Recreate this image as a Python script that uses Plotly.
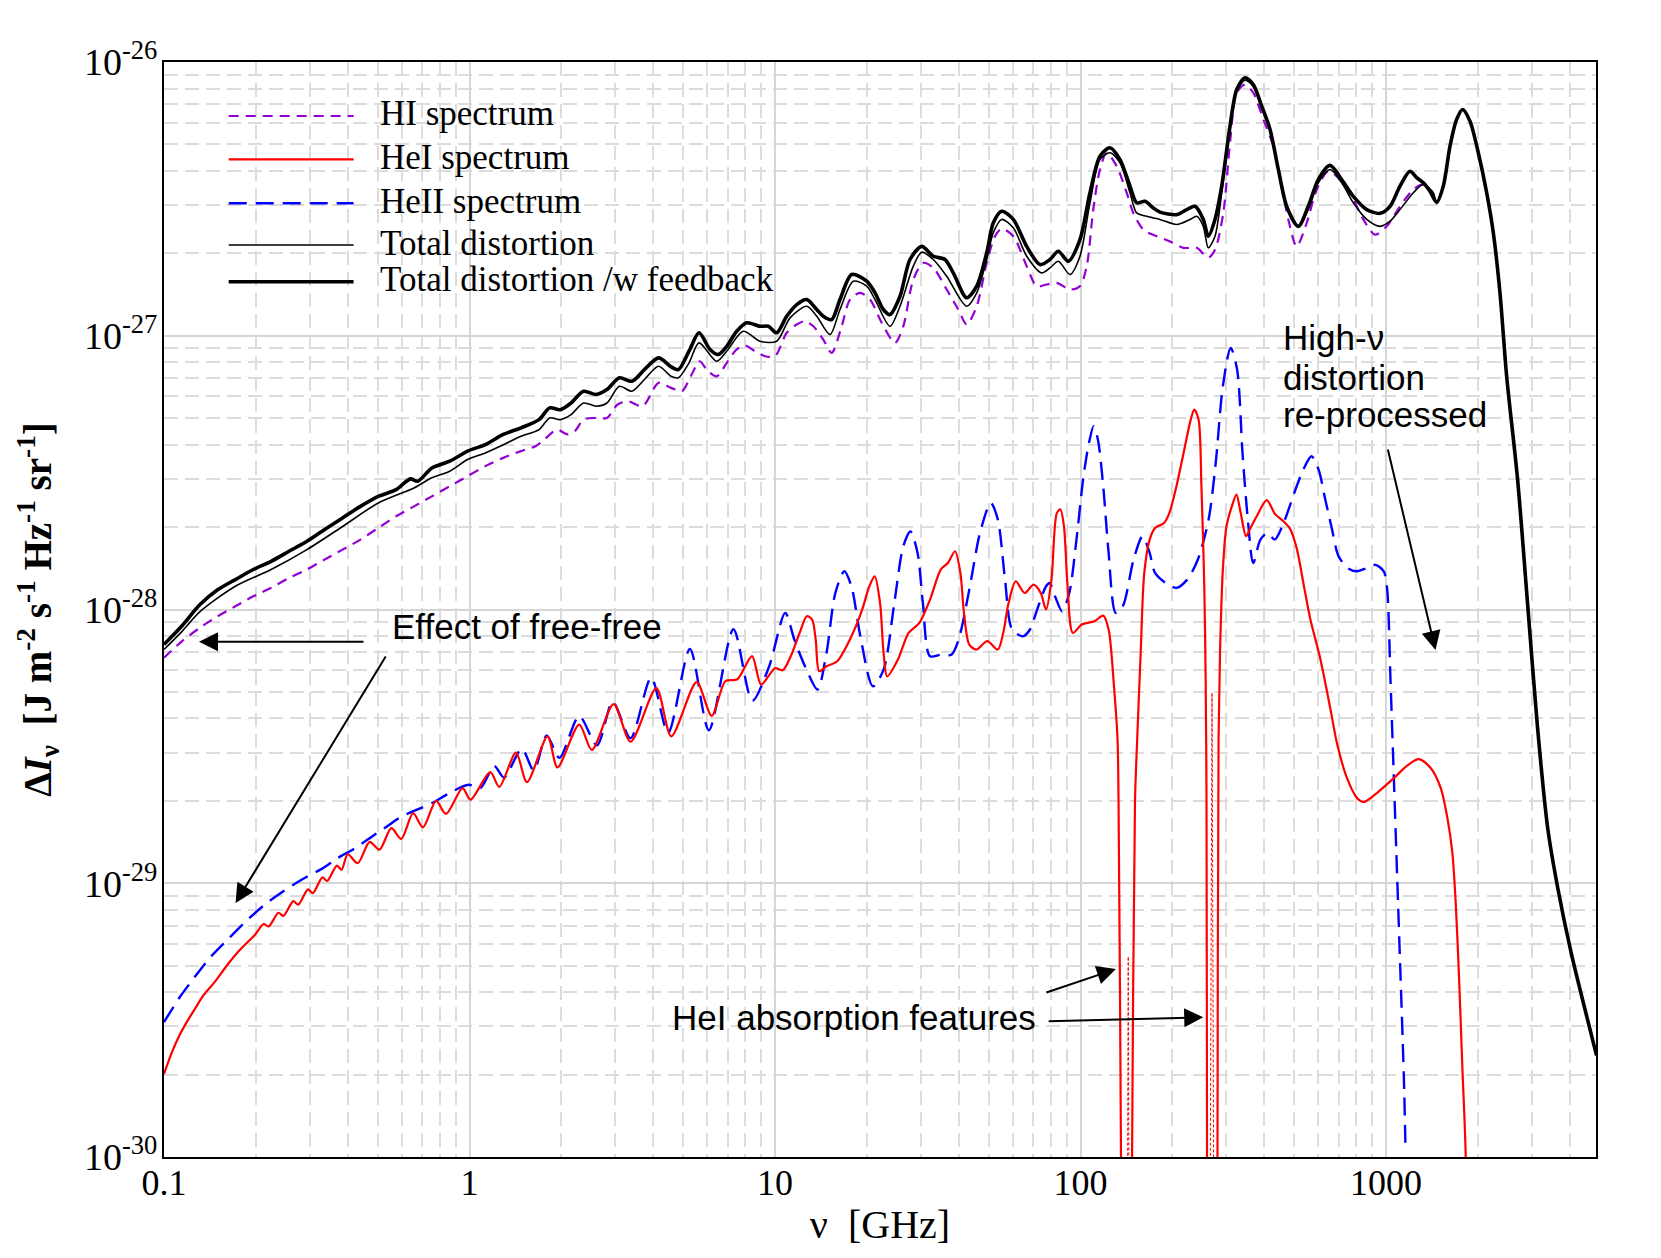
import plotly.graph_objects as go

# ---------------- data (nu in GHz, Delta I_nu in J m^-2 s^-1 Hz^-1 sr^-1) ----------------
hi_nu = [0.1, 0.1144, 0.1309, 0.1498, 0.1712, 0.1960, 0.2242, 0.2566, 0.2937, 0.3357, 0.3842,
         0.4395, 0.5030, 0.5751, 0.658, 0.7531, 0.8615, 0.9858, 1.127, 1.290, 1.475, 1.644,
         1.735, 1.932, 2.095, 2.211, 2.363, 2.597, 2.817, 3.054, 3.311, 3.687, 4.159, 4.570,
         4.959, 5.30, 5.67, 5.975, 6.445, 6.950, 7.494, 7.98, 8.60, 9.27, 10.0, 10.92, 11.78,
         12.54, 13.35, 14.39, 15.33, 16.53, 17.60, 18.98, 20.46, 22.36, 24.71, 26.30, 28.36,
         30.58, 32.97, 36.48, 39.81, 42.41, 45.74, 49.32, 52.5, 55.21, 60.26, 66.66, 71.9,
         77.5, 83.6, 92.4, 99.6, 104.8, 110.1, 115.8, 121.8, 131.4, 141.6, 148.9, 160.6,
         177.6, 196.3, 217.1, 240.1, 262.0, 275.6, 293.4, 308.6, 324.6, 345.6, 367.7, 396.7,
         427.8, 455.7, 478.9, 510.1, 550.3, 593.3, 647.4, 707.2, 781.6, 843.0, 920.4, 1005,
         1111, 1229, 1325, 1393, 1465, 1540, 1620, 1703, 1782, 1883, 2005, 2136, 2245, 2361,
         2483, 2696, 2907, 3135, 3383, 3648, 4035, 4461, 4887]
hi_I = [6.67e-29, 7.65e-29, 8.57e-29, 9.44e-29, 1.027e-28, 1.117e-28, 1.20e-28, 1.305e-28,
        1.40e-28, 1.522e-28, 1.655e-28, 1.80e-28, 1.987e-28, 2.19e-28, 2.38e-28, 2.59e-28,
        2.82e-28, 3.07e-28, 3.34e-28, 3.58e-28, 3.79e-28, 3.95e-28, 4.12e-28, 4.54e-28,
        4.36e-28, 4.48e-28, 4.94e-28, 5.01e-28, 5.01e-28, 5.61e-28, 5.76e-28, 5.53e-28,
        6.73e-28, 6.45e-28, 6.27e-28, 7.11e-28, 8.07e-28, 7.52e-28, 7.11e-28, 7.96e-28,
        8.91e-28, 9.21e-28, 8.78e-28, 8.42e-28, 8.42e-28, 1.025e-27, 1.099e-27, 1.13e-27,
        1.083e-27, 9.68e-28, 8.66e-28, 1.083e-27, 1.356e-27, 1.435e-27, 1.356e-27, 1.115e-27,
        9.42e-28, 1.083e-27, 1.604e-27, 1.846e-27, 1.77e-27, 1.475e-27, 1.247e-27, 1.099e-27,
        1.282e-27, 1.846e-27, 2.31e-27, 2.46e-27, 2.31e-27, 1.795e-27, 1.517e-27, 1.539e-27,
        1.561e-27, 1.475e-27, 1.517e-27, 1.795e-27, 2.89e-27, 4.05e-27, 4.66e-27, 4.16e-27,
        3.33e-27, 2.81e-27, 2.44e-27, 2.31e-27, 2.21e-27, 2.095e-27, 2.095e-27, 1.93e-27,
        2.06e-27, 2.81e-27, 5.07e-27, 7.72e-27, 8.27e-27, 7.72e-27, 6.17e-27, 4.93e-27,
        3.52e-27, 2.66e-27, 2.12e-27, 2.585e-27, 3.42e-27, 3.99e-27, 3.72e-27, 3.15e-27,
        2.66e-27, 2.34e-27, 2.51e-27, 2.97e-27, 3.42e-27, 3.57e-27, 3.37e-27, 3.07e-27,
        3.52e-27, 4.93e-27, 6.17e-27, 6.71e-27, 6.08e-27, 4.66e-27, 3.33e-27, 2.38e-27,
        1.435e-27, 7.11e-28, 2.99e-28, 1.05e-28, 3.68e-29, 1.59e-29, 9.63e-30, 5.59e-30,
        3.53e-30, 2.35e-30]

hei_nu = [0.1, 0.1061, 0.1127, 0.1196, 0.1269, 0.1347, 0.1473, 0.1611, 0.1761, 0.1985,
          0.212, 0.220, 0.237, 0.246, 0.265, 0.275, 0.296, 0.307, 0.330, 0.342, 0.368, 0.381,
          0.3997, 0.4306, 0.4710, 0.5074, 0.5548, 0.5977,
          0.6537, 0.7042, 0.7772, 0.8374, 0.9489, 1.007, 1.169, 1.252, 1.419, 1.542, 1.801,
          1.941, 2.286, 2.515, 2.963, 3.367, 4.088, 4.577, 5.54, 6.204, 6.887, 7.531, 8.41,
          9.01, 10.0, 10.6, 11.26, 12.04, 12.71, 13.23, 13.59, 13.96, 14.74, 15.98, 17.79,
          19.29, 20.36, 21.20, 22.07, 22.67, 23.29, 25.25, 27.37, 29.68, 32.17, 34.87, 36.8,
          38.84, 40.44, 41.55, 43.25, 45.64, 49.50, 53.63, 55.85, 58.15, 61.38, 65.64, 70.22,
          74.11, 77.15, 80.34, 83.65, 85.94, 88.29, 90.7, 94.4, 101.0, 111.0, 118.7, 123.6,
          128.7, 132.2, 133.2, 135.7, 137.0, 146.0, 147.5, 150.8, 153.3, 157.4, 161.7, 168.4,
          175.4, 187.6, 195.3, 206.1, 217.5, 229.5, 235.8, 243.5, 248.8, 254.2, 257.0, 258.5,
          259.5, 260.5, 279.5, 280.8, 283.1, 286.2, 292.4, 300.4, 312.8, 323.9, 334.5, 348.3,
          358.7, 377.3, 406.9, 433.5, 461.6, 485.6, 510.7, 537.0, 564.9, 609.2, 657.0, 691.0,
          745.4, 803.8, 845.3, 935.0, 1061, 1173, 1281, 1400, 1510, 1588, 1649, 1691, 1734,
          1778, 1824, 1850]
hei_I = [2.01e-30, 2.41e-30, 2.80e-30, 3.155e-30, 3.51e-30, 3.90e-30, 4.39e-30, 5.03e-30,
         5.67e-30, 6.49e-30,
         7.1e-30, 6.95e-30, 7.8e-30, 7.6e-30, 8.6e-30, 8.35e-30, 9.5e-30, 9.2e-30, 1.05e-29,
         1.02e-29, 1.16e-29, 1.12e-29,
         1.276e-29, 1.183e-29, 1.417e-29, 1.327e-29, 1.589e-29, 1.452e-29, 1.803e-29,
         1.599e-29, 2.00e-29,
         1.792e-29, 2.225e-29, 2.02e-29, 2.545e-29, 2.25e-29, 3.00e-29, 2.34e-29, 3.44e-29,
         2.65e-29, 3.80e-29, 3.07e-29, 4.51e-29, 3.29e-29, 5.16e-29, 3.44e-29, 5.43e-29,
         4.09e-29, 5.48e-29, 5.56e-29, 6.76e-29, 5.32e-29, 6.1e-29, 6.0e-29, 6.75e-29, 8.21e-29,
         9.45e-29, 9.19e-29, 7.76e-29, 5.95e-29, 6.20e-29, 6.47e-29, 7.98e-29, 9.99e-29,
         1.216e-28, 1.322e-28, 1.057e-28, 6.94e-29, 5.70e-29, 6.56e-29, 8.21e-29, 8.93e-29,
         1.087e-28, 1.399e-28, 1.479e-28, 1.632e-28, 1.36e-28, 9.72e-29, 7.44e-29, 7.14e-29,
         7.66e-29, 7.14e-29, 8.21e-29, 1.057e-28, 1.268e-28, 1.149e-28, 1.233e-28, 1.149e-28,
         9.99e-29, 1.286e-28, 2.25e-28, 2.32e-28, 2.01e-28, 1.216e-28, 8.21e-29, 8.81e-29,
         9.06e-29, 9.50e-29, 8.45e-29, 5.24e-29, 3.35e-29, 2.0e-29, 1e-30, 1e-31, 1e-31, 1e-30,
         2.0e-29, 3.35e-29, 6.94e-29, 1.36e-28, 1.80e-28, 1.986e-28, 2.07e-28, 2.25e-28,
         2.82e-28, 3.73e-28, 4.94e-28, 5.37e-28, 4.94e-28, 2.82e-28, 1.216e-28, 5.24e-29,
         2.0e-29, 1e-30, 1e-31, 1e-31, 1e-30, 3.35e-29, 6.94e-29, 1.399e-28, 2.01e-28, 2.38e-28,
         2.63e-28, 2.25e-28, 1.852e-28, 1.968e-28, 2.19e-28, 2.51e-28, 2.23e-28, 2.10e-28,
         1.968e-28, 1.665e-28, 1.242e-28, 9.26e-29, 6.62e-29, 4.36e-29, 3.25e-29, 2.42e-29,
         2.05e-29, 1.982e-29, 2.14e-29, 2.42e-29, 2.69e-29, 2.84e-29, 2.635e-29, 2.23e-29,
         1.733e-29, 1.292e-29, 8.50e-30, 4.54e-30, 2.13e-30, 1.00e-30, 1e-31]

# negative HeI parts inside the absorption features (thin dashed)
hei_neg_nu = [141.8, 143.3, 144.8, None, 264.0, 269.5, 274.5]
hei_neg_I = [1e-31, 5.4e-30, 1e-31, None, 1e-31, 4.97e-29, 1e-31]

heii_nu = [0.1, 0.1127, 0.1269, 0.1430, 0.1611, 0.1815, 0.2107, 0.2445, 0.2838, 0.3294,
           0.3711, 0.4181, 0.4710, 0.5307, 0.5977, 0.6737, 0.7590, 0.8553, 0.9922, 1.085,
           1.205, 1.297, 1.483, 1.623, 1.790, 1.969, 2.286, 2.614, 2.944, 3.367, 3.932, 4.469,
           5.266, 6.075, 7.31, 8.43, 9.56, 10.8, 11.57, 12.54, 13.78, 14.74, 15.76, 16.86,
           17.79, 19.03, 20.91, 22.67, 24.58, 26.29, 27.74, 29.28, 30.48, 32.17, 34.87, 37.80,
           39.90, 43.25, 46.89, 50.84, 53.63, 56.62, 59.74, 64.77, 68.35, 72.13, 77.15, 79.25,
           82.51, 87.10, 91.9, 97.0, 102.3, 106.6, 110.4, 114.0, 118.7, 123.6, 130.4, 137.6,
           149.2, 159.6, 168.4, 175.4, 190.1, 206.1, 223.4, 242.2, 262.6, 277.1, 292.4, 310.2,
           325.6, 339.1, 353.0, 367.6, 388.0, 409.5, 432.1, 462.1, 501.0, 535.9, 570.2, 601.4,
           632.5, 665.3, 699.7, 754.8, 803.8, 866.9, 923.5, 983.3, 1008.5, 1034, 1061, 1088,
           1116, 1144, 1158]
heii_I = [3.11e-30, 3.84e-30, 4.59e-30, 5.42e-30, 6.21e-30, 7.10e-30, 8.25e-30, 9.31e-30,
          1.034e-29, 1.131e-29, 1.238e-29, 1.334e-29, 1.461e-29, 1.599e-29, 1.75e-29, 1.857e-29,
          1.972e-29, 2.127e-29, 2.29e-29, 2.225e-29, 2.68e-29, 2.434e-29, 3.095e-29, 2.585e-29,
          3.47e-29, 2.87e-29, 4.08e-29, 3.19e-29, 4.60e-29, 3.39e-29, 5.64e-29, 3.54e-29,
          7.18e-29, 3.62e-29, 8.47e-29, 4.64e-29, 6.18e-29, 9.72e-29, 7.76e-29, 6.20e-29,
          5.10e-29, 6.94e-29, 1.149e-28, 1.38e-28, 1.216e-28, 7.98e-29, 5.24e-29, 6.03e-29,
          1.057e-28, 1.70e-28, 1.93e-28, 1.61e-28, 1.057e-28, 6.75e-29, 6.84e-29, 6.84e-29,
          7.76e-29, 1.182e-28, 1.905e-28, 2.45e-28, 2.13e-28, 1.286e-28, 8.45e-29, 7.98e-29,
          8.45e-29, 9.99e-29, 1.216e-28, 1.25e-28, 1.118e-28, 9.85e-29, 1.149e-28, 1.80e-28,
          3.07e-28, 4.06e-28, 4.67e-28, 4.18e-28, 2.82e-28, 1.61e-28, 9.72e-29, 1.028e-28,
          1.522e-28, 1.852e-28, 1.61e-28, 1.36e-28, 1.25e-28, 1.20e-28, 1.286e-28, 1.522e-28,
          2.13e-28, 3.43e-28, 6.54e-28, 9.03e-28, 7.52e-28, 3.73e-28, 2.13e-28, 1.479e-28,
          1.80e-28, 1.905e-28, 1.80e-28, 2.07e-28, 2.67e-28, 3.24e-28, 3.63e-28, 3.25e-28,
          2.53e-28, 1.968e-28, 1.563e-28, 1.408e-28, 1.379e-28, 1.419e-28, 1.456e-28, 1.379e-28,
          1.19e-28, 5.60e-29, 2.42e-29, 1.048e-29, 4.54e-30, 1.96e-30, 1.09e-30]

tot_nu = [0.1, 0.1144, 0.1309, 0.1712, 0.2242, 0.2937, 0.3842, 0.5030, 0.658, 0.7531, 0.8615,
          0.9858, 1.127, 1.290, 1.475, 1.689, 1.830, 1.984, 2.150, 2.363, 2.597, 2.817, 3.096,
          3.402, 3.737, 4.159, 4.570, 4.826, 5.231, 5.64, 6.445, 6.950, 7.87, 8.93, 10.13,
          11.20, 12.70, 13.70, 15.14, 16.32, 18.04, 19.96, 21.25, 23.79, 25.66, 28.36, 30.22,
          32.97, 36.48, 42.41, 45.74, 49.32, 51.84, 55.21, 60.26, 66.66, 74.6, 79.46, 84.6,
          92.4, 99.6, 107.4, 115.8, 124.9, 134.7, 145.2, 152.7, 164.7, 182.0, 206.5, 228.2,
          240.1, 252.3, 262.0, 275.6, 289.9, 308.6, 324.6, 345.6, 367.7, 391.8, 417.3, 444.2,
          473.1, 516.3, 556.6, 600.3, 655.6, 716.1, 781.6, 864.9, 956, 1031, 1111, 1229, 1325,
          1428, 1465, 1540, 1620, 1703, 1782, 1883, 2005, 2136, 2245, 2361, 2483, 2696, 2907,
          3135, 3383, 3648, 4035, 4461, 4887]
tot_I = [7.14e-29, 8.3e-29, 9.8e-29, 1.216e-28, 1.40e-28, 1.655e-28, 2.01e-28, 2.45e-28,
         2.78e-28, 3.03e-28, 3.20e-28, 3.53e-28, 3.73e-28, 4.00e-28, 4.29e-28, 4.54e-28,
         5.01e-28, 4.94e-28, 5.15e-28, 5.68e-28, 5.53e-28, 5.68e-28, 6.54e-28, 6.27e-28,
         6.92e-28, 7.74e-28, 7.11e-28, 7.02e-28, 7.96e-28, 9.42e-28, 8.07e-28, 8.78e-28,
         1.039e-27, 9.55e-28, 9.55e-28, 1.162e-27, 1.282e-27, 1.178e-27, 1.01e-27, 1.247e-27,
         1.582e-27, 1.517e-27, 1.356e-27, 1.083e-27, 1.282e-27, 1.795e-27, 2.02e-27,
         1.899e-27, 1.65e-27, 1.282e-27, 1.435e-27, 1.899e-27, 2.38e-27, 2.66e-27, 2.48e-27,
         1.952e-27, 1.697e-27, 1.77e-27, 1.872e-27, 1.674e-27, 1.952e-27, 3.06e-27, 4.40e-27,
         4.66e-27, 4.28e-27, 3.33e-27, 2.81e-27, 2.73e-27, 2.66e-27, 2.55e-27, 2.66e-27,
         2.73e-27, 2.51e-27, 2.095e-27, 2.31e-27, 3.33e-27, 5.67e-27, 7.82e-27, 8.58e-27,
         8.16e-27, 6.80e-27, 5.59e-27, 3.99e-27, 2.93e-27, 2.50e-27, 2.89e-27, 3.62e-27,
         4.05e-27, 3.62e-27, 3.06e-27, 2.66e-27, 2.51e-27, 2.62e-27, 2.89e-27, 3.33e-27,
         3.57e-27, 3.33e-27, 3.07e-27, 3.52e-27, 4.93e-27, 6.17e-27, 6.71e-27, 6.08e-27,
         4.66e-27, 3.33e-27, 2.38e-27, 1.435e-27, 7.11e-28, 2.99e-28, 1.05e-28, 3.68e-29,
         1.59e-29, 9.63e-30, 5.59e-30, 3.53e-30, 2.35e-30]

fb_nu = [0.1, 0.1144, 0.1309, 0.1498, 0.1712, 0.1960, 0.2242, 0.2566, 0.2937, 0.3357, 0.3842,
         0.4395, 0.5030, 0.5751, 0.6406, 0.6763, 0.7531, 0.8615, 0.9858, 1.127, 1.290, 1.475,
         1.689, 1.830, 1.984, 2.150, 2.363, 2.597, 2.817, 3.096, 3.402, 3.737, 4.159, 4.570,
         4.826, 5.231, 5.640, 6.127, 6.522, 6.950, 7.494, 8.08, 8.93, 9.51, 10.13, 10.92,
         11.78, 12.70, 13.70, 14.39, 15.33, 16.32, 17.83, 19.96, 21.25, 22.62, 23.79, 25.66,
         27.66, 30.22, 32.97, 36.0, 38.33, 42.41, 45.74, 49.32, 51.84, 55.21, 60.26, 66.66,
         73.7, 79.46, 84.6, 91.2, 99.6, 107.4, 115.8, 124.9, 134.7, 145.2, 152.7, 162.6,
         173.1, 182.0, 206.5, 222.6, 237.1, 252.3, 262.0, 275.6, 289.9, 308.6, 324.6, 345.6,
         367.7, 391.8, 417.3, 444.2, 473.1, 516.3, 556.6, 600.3, 655.6, 716.1, 781.6, 864.9,
         956, 1031, 1111, 1198, 1260, 1325, 1393, 1465, 1540, 1620, 1703, 1782, 1883, 2005,
         2136, 2245, 2361, 2483, 2696, 2907, 3135, 3383, 3648, 4035, 4461, 4887]
fb_I = [7.45e-29, 8.7e-29, 1.04e-28, 1.18e-28, 1.286e-28, 1.40e-28, 1.50e-28, 1.632e-28,
        1.775e-28, 1.96e-28, 2.16e-28, 2.38e-28, 2.59e-28, 2.74e-28, 3.00e-28, 2.94e-28,
        3.29e-28, 3.48e-28, 3.79e-28, 4.00e-28, 4.36e-28, 4.61e-28, 4.94e-28, 5.45e-28,
        5.37e-28, 5.68e-28, 6.27e-28, 6.10e-28, 6.36e-28, 7.02e-28, 6.82e-28, 7.52e-28,
        8.30e-28, 7.70e-28, 7.52e-28, 8.78e-28, 1.025e-27, 8.91e-28, 8.54e-28, 9.15e-28,
        1.039e-27, 1.115e-27, 1.083e-27, 1.083e-27, 1.025e-27, 1.178e-27, 1.30e-27, 1.356e-27,
        1.247e-27, 1.178e-27, 1.146e-27, 1.356e-27, 1.674e-27, 1.582e-27, 1.435e-27,
        1.247e-27, 1.195e-27, 1.394e-27, 1.899e-27, 2.12e-27, 1.952e-27, 1.899e-27, 1.697e-27,
        1.376e-27, 1.517e-27, 2.01e-27, 2.585e-27, 2.85e-27, 2.66e-27, 2.12e-27, 1.82e-27,
        1.899e-27, 2.036e-27, 1.872e-27, 2.245e-27, 3.33e-27, 4.53e-27, 4.86e-27, 4.40e-27,
        3.52e-27, 3.06e-27, 3.10e-27, 2.93e-27, 2.83e-27, 2.77e-27, 2.89e-27, 2.97e-27,
        2.66e-27, 2.31e-27, 2.66e-27, 3.52e-27, 5.83e-27, 7.93e-27, 8.76e-27, 8.27e-27,
        6.90e-27, 5.67e-27, 4.05e-27, 2.97e-27, 2.51e-27, 2.97e-27, 3.72e-27, 4.19e-27,
        3.72e-27, 3.23e-27, 2.89e-27, 2.80e-27, 2.97e-27, 3.52e-27, 3.99e-27, 3.78e-27,
        3.62e-27, 3.37e-27, 3.07e-27, 3.52e-27, 4.93e-27, 6.17e-27, 6.71e-27, 6.08e-27,
        4.66e-27, 3.33e-27, 2.38e-27, 1.435e-27, 7.11e-28, 2.99e-28, 1.05e-28, 3.68e-29,
        1.59e-29, 9.63e-30, 5.59e-30, 3.53e-30, 2.35e-30]

x_tick_vals = [0.1, 1, 10, 100, 1000]
x_tick_text = ["0.1", "1", "10", "100", "1000"]
y_tick_vals = [1e-30, 1e-29, 1e-28, 1e-27, 1e-26]
y_tick_exp = ["-30", "-29", "-28", "-27", "-26"]

legend_names = ["HI spectrum", "HeI spectrum", "HeII spectrum", "Total distortion",
                "Total distortion /w feedback"]

SERIF = "Liberation Serif"
SANS = "Liberation Sans"
SM = 0.8

style_hi = dict(color="#9400d3", width=2.2, dash="10px,7px")
style_hei = dict(color="#ff0000", width=2.2, dash="solid")
style_heii = dict(color="#0000ff", width=2.4, dash="18px,9px")
style_tot = dict(color="black", width=1.6, dash="solid")
style_fb = dict(color="black", width=3.6, dash="solid")

fig = go.Figure()
fig.add_trace(go.Scatter(x=hi_nu, y=hi_I, mode="lines", name=legend_names[0],
                         line=dict(**style_hi, shape="spline", smoothing=SM)))
fig.add_trace(go.Scatter(x=heii_nu, y=heii_I, mode="lines", name=legend_names[2],
                         line=dict(**style_heii, shape="spline", smoothing=SM)))
fig.add_trace(go.Scatter(x=hei_nu, y=hei_I, mode="lines", name=legend_names[1],
                         line=dict(**style_hei, shape="spline", smoothing=SM)))
fig.add_trace(go.Scatter(x=hei_neg_nu, y=hei_neg_I, mode="lines", name="HeI (negative)",
                         connectgaps=False,
                         line=dict(color="#ff0000", width=1, dash="3px,2px")))
fig.add_trace(go.Scatter(x=tot_nu, y=tot_I, mode="lines", name=legend_names[3],
                         line=dict(**style_tot, shape="spline", smoothing=SM)))
fig.add_trace(go.Scatter(x=fb_nu, y=fb_I, mode="lines", name=legend_names[4],
                         line=dict(**style_fb, shape="spline", smoothing=SM)))

# plot area in page pixels: x 164..1596, y 62..1157  (page has an 8px body margin)
PX0, PX1, PY0, PY1 = 164.0, 1596.0, 62.0, 1157.0


def px(x):
    return (x - PX0) / (PX1 - PX0)


def py(y):
    return (PY1 - y) / (PY1 - PY0)


shapes = []
annotations = []

# legend drawn inside the plot (line samples + labels)
leg_rows = [116, 159.3, 203.3, 245, 281.7]
leg_styles = [style_hi, style_hei, style_heii, style_tot, style_fb]
for name, row, st in zip(legend_names, leg_rows, leg_styles):
    shapes.append(dict(type="line", xref="paper", yref="paper", x0=px(228.7), x1=px(353.6),
                       y0=py(row), y1=py(row), line=dict(color=st["color"], width=st["width"],
                                                         dash=st["dash"])))
    annotations.append(dict(x=px(378), y=py(row - 2), xref="paper", yref="paper", text=name,
                            showarrow=False, xanchor="left", yanchor="middle",
                            font=dict(family=SERIF, size=35, color="black")))

# arrows (head position, tail offset in px)
for hx, hy, ax, ay in [(199, 641.7, 166, 0), (235.6, 903, 151, -248),
                       (1115.9, 969, -71, 24), (1203.2, 1017.3, -156, 4),
                       (1435.5, 650, -48, -202)]:
    annotations.append(dict(x=px(hx), y=py(hy), xref="paper", yref="paper", text="",
                            showarrow=True, ax=ax, ay=ay, arrowhead=2, arrowsize=1.9,
                            arrowwidth=2, arrowcolor="black", standoff=0))
for txt, tx, ty in [("Effect of free-free", 390, 626),
                    ("HeI absorption features", 670, 1017),
                    ("High-ν", 1281, 338),
                    ("distortion", 1281, 378),
                    ("re-processed", 1281, 414)]:
    annotations.append(dict(x=px(tx), y=py(ty), xref="paper", yref="paper", text=txt,
                            showarrow=False, xanchor="left", yanchor="middle",
                            font=dict(family=SANS, size=35, color="black")))

grid_major = "#d6d6d6"
grid_minor = "#dcdcdc"

fig.update_layout(
    template="none",
    width=1645, height=1242,
    margin=dict(l=156, r=57, t=54, b=93, pad=0),
    paper_bgcolor="white", plot_bgcolor="white",
    font=dict(family=SERIF, size=34, color="black"),
    showlegend=False,
    shapes=shapes,
    annotations=annotations,
    xaxis=dict(type="log", range=[-1, 3.6874], showline=True, mirror=True, linecolor="black",
               linewidth=2, ticks="", showgrid=True, gridcolor=grid_major, gridwidth=2,
               tickmode="array", tickvals=x_tick_vals, ticktext=x_tick_text,
               tickfont=dict(family=SERIF, size=36), ticklabelstandoff=-7,
               minor=dict(tickmode="linear", dtick="D1", showgrid=True, gridcolor=grid_minor,
                          gridwidth=1.5, griddash="14px,7px", ticks=""),
               zeroline=False, automargin=False,
               title=dict(text="ν\u00a0\u00a0[GHz]", font=dict(family=SERIF, size=40),
                          standoff=8)),
    yaxis=dict(type="log", range=[-30, -26], showline=True, mirror=True, linecolor="black",
               linewidth=2, ticks="", showgrid=True, gridcolor=grid_major, gridwidth=2,
               tickmode="array", tickvals=y_tick_vals,
               ticktext=["10<sup style='font-size:28px'>" + e + "</sup>" for e in y_tick_exp],
               tickfont=dict(family=SERIF, size=38), ticklabelstandoff=-3,
               minor=dict(tickmode="linear", dtick="D1", showgrid=True, gridcolor=grid_minor,
                          gridwidth=1.5, griddash="14px,7px", ticks=""),
               zeroline=False, automargin=False,
               title=dict(text="<b>Δ<i>I</i><sub>ν</sub>\u00a0\u00a0[J m<sup>-2</sup> s<sup>-1</sup> Hz<sup>-1</sup> sr<sup>-1</sup>]</b>",
                          font=dict(family=SERIF, size=39), standoff=20)),
)

fig.write_html("out.html")
